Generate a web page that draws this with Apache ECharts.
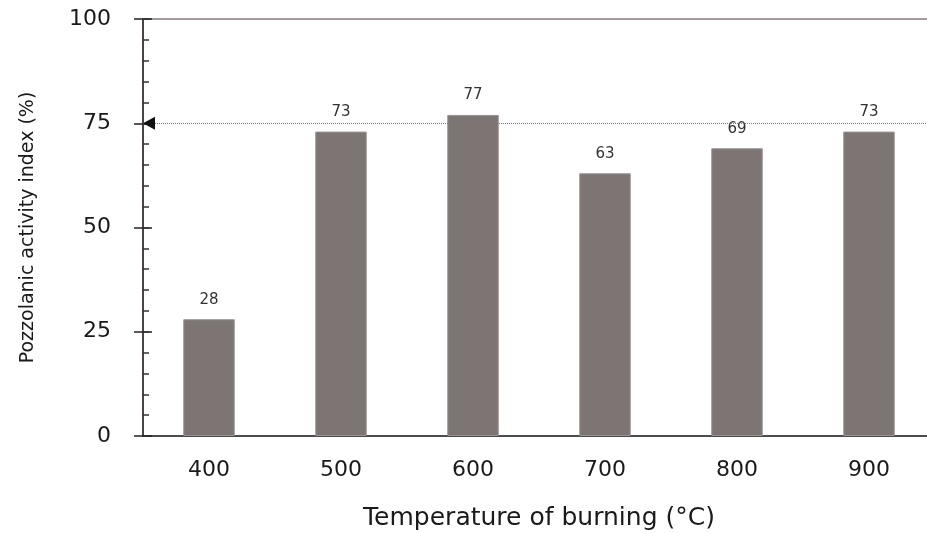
<!DOCTYPE html>
<html><head><meta charset="utf-8">
<script src="https://cdn.jsdelivr.net/npm/echarts@6/dist/echarts.min.js"></script>
<style>html,body{margin:0;padding:0;background:#fff}#c{width:927px;height:533px}</style>
</head><body><div id="c"></div>
<script>
const categories = ['400', '500', '600', '700', '800', '900'];
const values = [28, 73, 77, 63, 69, 73];
const referenceValue = 75;
const yTicks = [0, 25, 50, 75, 100];

const font = '"DejaVu Sans", Verdana, sans-serif';
const chart = echarts.init(document.getElementById('c'), null, {renderer: 'canvas'});
const yBase = {type: 'value', min: 0, max: 100, position: 'left', splitLine: {show: false}};
chart.setOption({
  animation: false,
  grid: {left: 143, top: 19, bottom: 97, right: -8, containLabel: false, outerBoundsMode: 'none'},
  xAxis: [{
    type: 'category', data: categories,
    axisLine: {lineStyle: {color: '#111', width: 1.5}},
    axisTick: {show: false},
    axisLabel: {fontFamily: font, fontSize: 22, color: '#1a1a1a', margin: 23},
    name: 'Temperature of burning (°C)', nameLocation: 'middle', nameGap: 70,
    nameTextStyle: {fontFamily: font, fontSize: 25, color: '#1a1a1a'}
  }, {
    type: 'category', data: categories, position: 'top',
    axisLine: {show: true, onZero: false, lineStyle: {color: '#a49c9c', width: 2}},
    axisTick: {show: false}, axisLabel: {show: false}
  }],
  yAxis: [
    Object.assign({}, yBase, {
      interval: 25,
      axisLine: {show: true, lineStyle: {color: '#4a4444', width: 2}},
      axisTick: {show: true, inside: false, length: 9, lineStyle: {color: '#222', width: 1.5}},
      axisLabel: {fontFamily: font, fontSize: 22, color: '#1a1a1a', margin: 32,
        formatter: v => yTicks.includes(v) ? String(v) : ''},
      name: 'Pozzolanic activity index (%)', nameLocation: 'middle', nameGap: 105,
      nameTextStyle: {fontFamily: font, fontSize: 19, color: '#1a1a1a'}
    }),
    Object.assign({}, yBase, {
      interval: 25,
      axisLine: {show: false},
      axisTick: {show: true, inside: true, length: 9, lineStyle: {color: '#222', width: 1.5}},
      axisLabel: {show: false}
    }),
    Object.assign({}, yBase, {
      interval: 5,
      axisLine: {show: false},
      axisTick: {show: true, inside: true, length: 6, lineStyle: {color: '#333', width: 1.5}},
      axisLabel: {show: false}
    })
  ],
  series: [{
    type: 'bar', data: values, barWidth: '39%',
    itemStyle: {color: '#7d7573', borderColor: '#9a9391', borderWidth: 1},
    label: {show: true, position: 'top', distance: 12, fontFamily: font, fontSize: 15, color: '#333'},
    markLine: {
      silent: true,
      symbol: ['triangle', 'none'],
      label: {show: false},
      lineStyle: {type: 'dotted', color: '#777', width: 1},
      data: [
        {yAxis: referenceValue, symbol: 'none'},
        {yAxis: referenceValue, symbolSize: [13, 12], symbolOffset: [0, 6],
          lineStyle: {color: '#111', width: 0}}
      ]
    }
  }]
});
</script></body></html>
